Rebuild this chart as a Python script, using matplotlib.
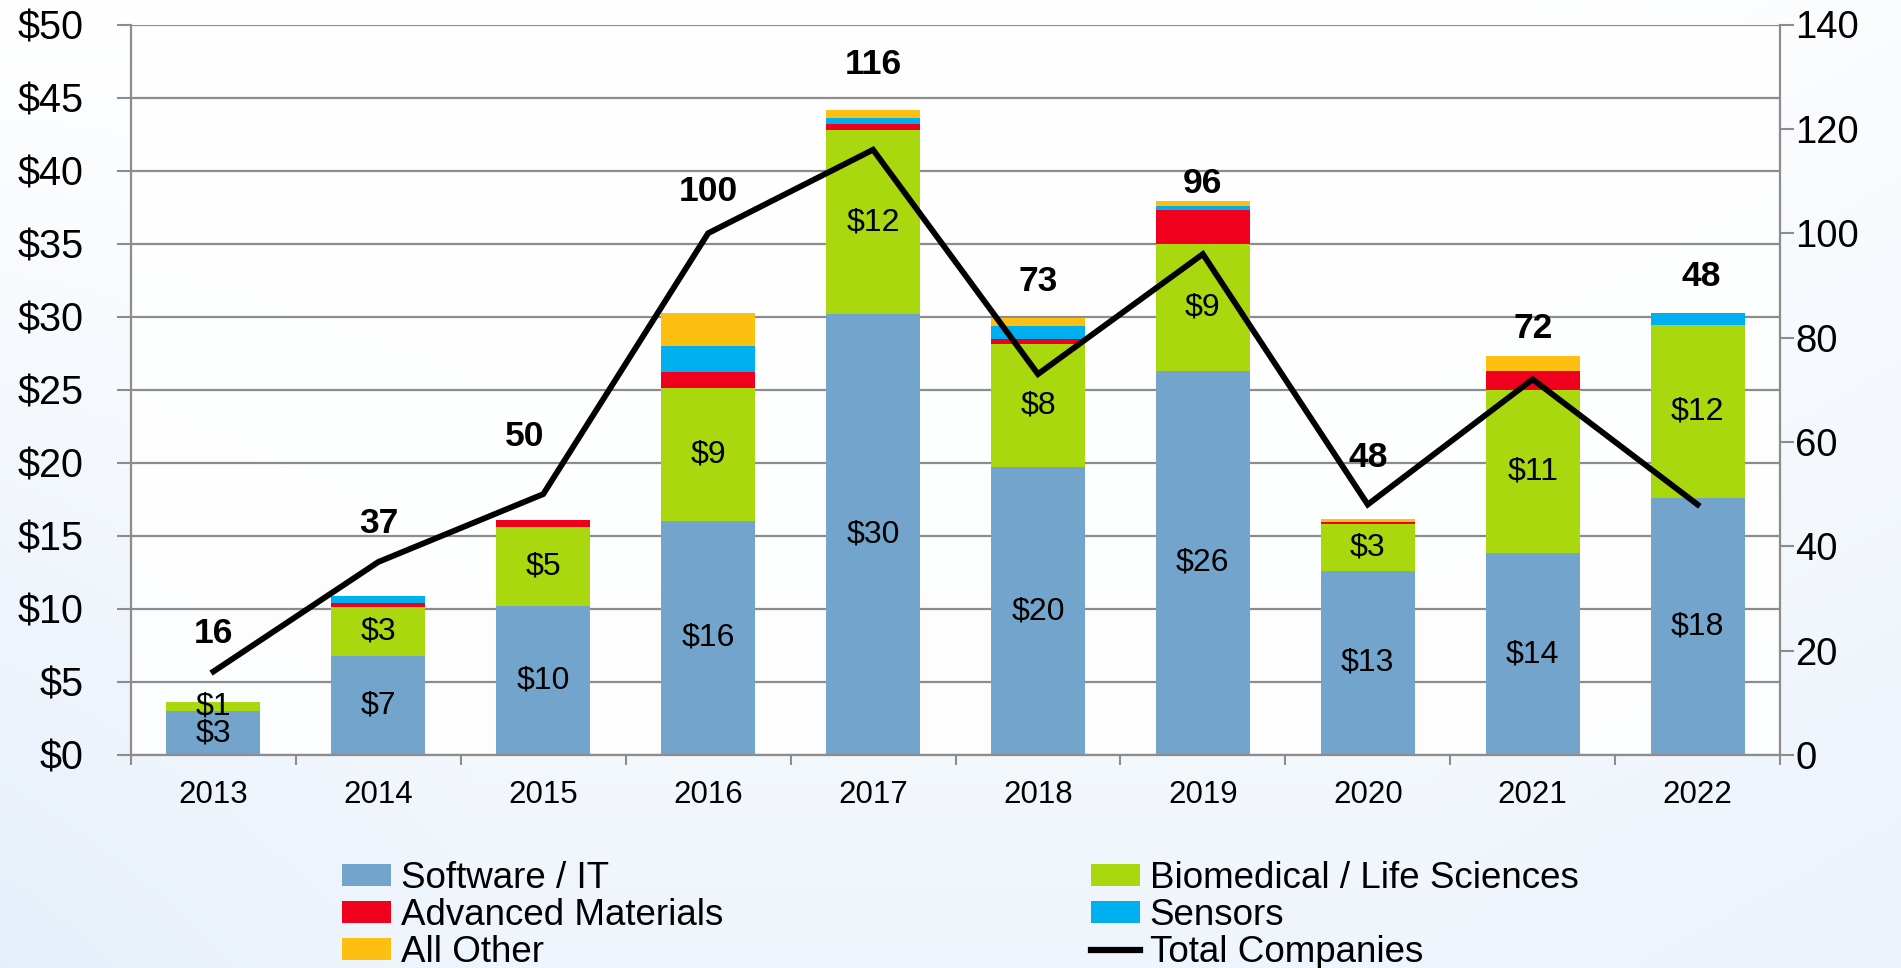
import numpy as np
import matplotlib
matplotlib.use("Agg")
import matplotlib.pyplot as plt
from matplotlib.patches import Patch
from matplotlib.lines import Line2D

plt.rcParams['font.family'] = ['Liberation Sans', 'DejaVu Sans']

# ---------------- data ----------------
years = ['2013', '2014', '2015', '2016', '2017', '2018', '2019', '2020', '2021', '2022']
software = [3.0, 6.8, 10.2, 16.05, 30.2, 19.7, 26.3, 12.6, 13.8, 17.6]
biomedical = [0.6, 3.3, 5.4, 9.1, 12.55, 8.4, 8.7, 3.2, 11.15, 11.8]
advanced = [0.0, 0.3, 0.5, 1.05, 0.43, 0.39, 2.33, 0.16, 1.3, 0.0]
sensors = [0.0, 0.48, 0.0, 1.78, 0.39, 0.85, 0.22, 0.0, 0.0, 0.87]
all_other = [0.0, 0.0, 0.0, 2.28, 0.55, 0.59, 0.4, 0.2, 1.05, 0.0]
total_companies = [16, 37, 50, 100, 116, 73, 96, 48, 72, 48]

software_labels = ['$3', '$7', '$10', '$16', '$30', '$20', '$26', '$13', '$14', '$18']
biomedical_labels = ['$1', '$3', '$5', '$9', '$12', '$8', '$9', '$3', '$11', '$12']

series_names = ['Software / IT', 'Biomedical / Life Sciences', 'Advanced Materials',
                'Sensors', 'All Other']
colors = ['#73A4CB', '#A9D80F', '#F0001C', '#00B0EE', '#FDBF10']

# layout of the bold company-count labels (right-axis units, x offset in categories)
count_label_y = [23.2, 44.4, 61.1, 108.0, 132.3, 90.8, 109.6, 57.1, 81.7, 91.7]
count_label_dx = [0, 0, -0.11, 0, 0, 0, 0, 0, 0, 0.02]

# ---------------- figure ----------------
W, H = 1901, 968
fig = plt.figure(figsize=(W / 100, H / 100), dpi=100)

# background gradient
bg = fig.add_axes([0, 0, 1, 1], zorder=-10)
yy, xx = np.mgrid[0:1:200j, 0:1:400j]
t = np.clip(0.55 * yy + 0.35 * np.clip(0.25 - xx, 0, 1) * 4 * yy + 0.15 * np.clip(xx - 0.75, 0, 1) * 4, 0, 1)
top = np.array([1.0, 1.0, 1.0])
bot = np.array([0.89, 0.93, 0.98])
img = top[None, None, :] * (1 - t[..., None]) + bot[None, None, :] * t[..., None]
bg.imshow(img, extent=[0, 1, 0, 1], aspect='auto', origin='upper')
bg.axis('off')

ax = fig.add_axes([131 / W, 1 - 755 / H, (1780 - 131) / W, (755 - 24.5) / H])
ax.patch.set_facecolor('white')
ax.patch.set_alpha(0.85)

x = np.arange(len(years))
width = 0.57
stacks = [software, biomedical, advanced, sensors, all_other]
bottom = np.zeros(len(years))
for vals, col in zip(stacks, colors):
    ax.bar(x, vals, width, bottom=bottom, color=col, edgecolor='none', zorder=2)
    bottom = bottom + np.array(vals)

soft = np.array(software)
bio = np.array(biomedical)
for i in range(len(years)):
    ax.text(x[i], soft[i] / 2, software_labels[i], ha='center', va='center',
            fontsize=23, color='black', zorder=3)
    ax.text(x[i], soft[i] + bio[i] / 2, biomedical_labels[i], ha='center', va='center',
            fontsize=23, color='black', zorder=3)

ax.set_xlim(-0.5, len(years) - 0.5)
ax.set_ylim(0, 50)
ax.set_yticks(np.arange(0, 51, 5))
ax.set_yticklabels([f'${v}' for v in range(0, 51, 5)], fontsize=28.5)
ax.yaxis.grid(True, color='#8C8C8C', linewidth=1.6, zorder=0)
ax.set_axisbelow(True)
ax.set_xticks(x)
ax.set_xticklabels(years, fontsize=22.5)
ax.set_xticks(np.arange(-0.5, len(years), 1), minor=True)
ax.tick_params(axis='x', which='major', length=0, pad=18)
ax.tick_params(axis='x', which='minor', length=7, width=1.5, color='#8C8C8C', direction='out')
ax.tick_params(axis='y', length=10, width=1.5, color='#8C8C8C', pad=24)
for s in ['top', 'right']:
    ax.spines[s].set_visible(False)
for s in ['left', 'bottom']:
    ax.spines[s].set_color('#8C8C8C')
    ax.spines[s].set_linewidth(1.6)

ax2 = ax.twinx()
ax2.plot(x, total_companies, color='black', linewidth=4.2, solid_joinstyle='miter', zorder=5)
ax2.set_ylim(0, 140)
ax2.set_yticks(np.arange(0, 141, 20))
ax2.set_yticklabels([str(v) for v in range(0, 141, 20)], fontsize=27.5)
ax2.tick_params(axis='y', length=10, width=1.5, color='#8C8C8C', pad=1)
for s in ['top', 'left', 'bottom']:
    ax2.spines[s].set_visible(False)
ax2.spines['right'].set_color('#8C8C8C')
ax2.spines['right'].set_linewidth(1.6)
ax2.set_xlim(-0.5, len(years) - 0.5)

for i, v in enumerate(total_companies):
    ax2.text(x[i] + count_label_dx[i], count_label_y[i], str(v), ha='center', va='center',
             fontsize=25.5, fontweight='bold', color='black', zorder=6)

# ---------------- legend ----------------
h_soft = Patch(facecolor=colors[0], edgecolor='none')
h_bio = Patch(facecolor=colors[1], edgecolor='none')
h_adv = Patch(facecolor=colors[2], edgecolor='none')
h_sen = Patch(facecolor=colors[3], edgecolor='none')
h_oth = Patch(facecolor=colors[4], edgecolor='none')
h_tot = Line2D([0], [0], color='black', linewidth=4.5)

leg_kw = dict(frameon=False, fontsize=26.5, handlelength=1.32, handleheight=0.55,
              handletextpad=0.27, labelspacing=0.06, borderpad=0, borderaxespad=0,
              loc='upper left')
leg1 = fig.legend([h_soft, h_adv, h_oth], [series_names[0], series_names[2], series_names[4]],
                  bbox_to_anchor=(342 / W, 1 - 861 / H), **leg_kw)
leg2 = fig.legend([h_bio, h_sen, h_tot], [series_names[1], series_names[3], 'Total Companies'],
                  bbox_to_anchor=(1091 / W, 1 - 861 / H), **leg_kw)

fig.savefig('out.png', dpi=100)
